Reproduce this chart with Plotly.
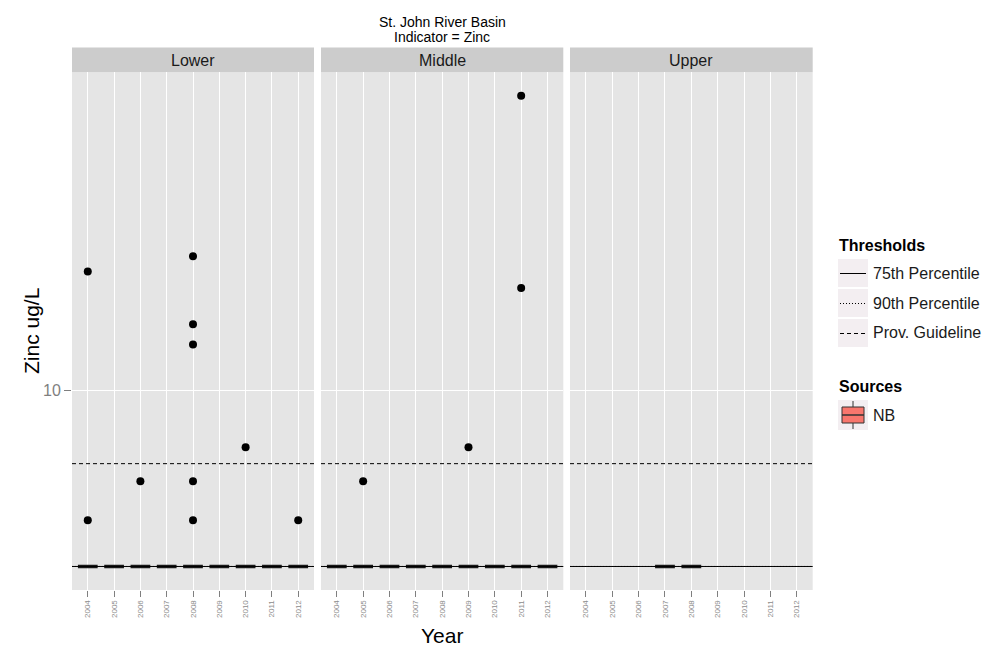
import math
import plotly.graph_objects as go

# ---------------- data ----------------
years = [2004, 2005, 2006, 2007, 2008, 2009, 2010, 2011, 2012]
facets = ["Lower", "Middle", "Upper"]

lower_box_years = [2004, 2005, 2006, 2007, 2008, 2009, 2010, 2011, 2012]
lower_box_stat = [5, 5, 5, 5, 5, 5, 5, 5, 5]
middle_box_years = [2004, 2005, 2006, 2007, 2008, 2009, 2010, 2011, 2012]
middle_box_stat = [5, 5, 5, 5, 5, 5, 5, 5, 5]
upper_box_years = [2007, 2008]
upper_box_stat = [5, 5]

lower_out_years = [2004, 2004, 2006, 2008, 2008, 2008, 2008, 2008, 2010, 2012]
lower_out_values = [16, 6, 7, 17, 13, 12, 7, 6, 8, 6]
middle_out_years = [2005, 2009, 2011, 2011]
middle_out_values = [7, 8, 32, 15]
upper_out_years = []
upper_out_values = []

threshold_names = ["75th Percentile", "90th Percentile", "Prov. Guideline"]
threshold_values = [5, 5, 7.5]
threshold_dash = ["solid", "1px,2px", "4px,3px"]

source_names = ["NB"]
y_ticks = [10]

# ---------------- layout helpers ----------------
W, H = 993, 654
def px(x):
    return x / W
def py(y):
    return 1 - y / H

panel_x = [(72, 314), (321, 563.3), (570, 812.7)]
panel_top, panel_bottom = 72.3, 590
strip_top = 47.5

all_vals = (lower_box_stat + middle_box_stat + upper_box_stat +
            lower_out_values + middle_out_values + upper_out_values)
lo, hi = math.log10(min(all_vals)), math.log10(max(all_vals))
ex = (hi - lo) * 0.05
y_range = [lo - ex, hi + ex]
x_range = [years[0] - 0.6, years[-1] + 0.6]

boxes = [(lower_box_years, lower_box_stat), (middle_box_years, middle_box_stat),
         (upper_box_years, upper_box_stat)]
outs = [(lower_out_years, lower_out_values), (middle_out_years, middle_out_values),
        (upper_out_years, upper_out_values)]

fig = go.Figure()
shapes = []
annotations = []

for i, name in enumerate(facets):
    sfx = "" if i == 0 else str(i + 1)
    xa, ya = "x" + sfx, "y" + sfx
    bx, bs = boxes[i]
    fig.add_trace(go.Box(
        x=bx, q1=bs, median=bs, q3=bs, lowerfence=bs, upperfence=bs,
        boxpoints=False, width=0.75, fillcolor="#F8766D",
        line=dict(color="#1a1a1a", width=3.5), whiskerwidth=0,
        xaxis=xa, yaxis=ya, showlegend=False, hoverinfo="skip"))
    ox, ov = outs[i]
    if ox:
        fig.add_trace(go.Scatter(
            x=ox, y=ov, mode="markers",
            marker=dict(color="black", size=8),
            xaxis=xa, yaxis=ya, showlegend=False, hoverinfo="skip"))
    for tv, td in zip(threshold_values, threshold_dash):
        shapes.append(dict(type="line", xref=xa + " domain", yref=ya,
                           x0=0, x1=1, y0=tv, y1=tv, layer="above",
                           line=dict(color="black", width=1, dash=td)))
    x0, x1 = panel_x[i]
    shapes.append(dict(type="rect", xref="paper", yref="paper",
                       x0=px(x0), x1=px(x1), y0=py(panel_top), y1=py(strip_top),
                       fillcolor="#CCCCCC", line=dict(width=0), layer="below"))
    annotations.append(dict(xref="paper", yref="paper", x=px((x0 + x1) / 2),
                            y=py((panel_top + strip_top) / 2 + 1), text=name,
                            showarrow=False, xanchor="center", yanchor="middle",
                            font=dict(size=16, color="#1a1a1a")))

    xaxis = dict(domain=[px(x0), px(x1)], range=x_range, anchor=ya,
                 tickmode="array", tickvals=years, ticktext=[str(y) for y in years],
                 tickangle=-90, tickfont=dict(size=8, color="#8C8C8C"),
                 ticks="outside", ticklen=6, tickcolor="#7F7F7F",
                 showgrid=True, gridcolor="white", gridwidth=1,
                 zeroline=False, showline=False, automargin=False)
    yaxis = dict(domain=[py(panel_bottom), py(panel_top)], type="log",
                 range=y_range, anchor=xa, tickmode="array", tickvals=y_ticks,
                 ticktext=[str(t) for t in y_ticks],
                 showgrid=True, gridcolor="white", gridwidth=1,
                 zeroline=False, showline=False, automargin=False)
    if i == 0:
        yaxis.update(ticks="outside", ticklen=7, tickcolor="#7F7F7F",
                     tickfont=dict(size=16, color="#7F7F7F"))
    else:
        yaxis.update(showticklabels=False, ticks="", matches="y")
    fig.layout["xaxis" + sfx] = xaxis
    fig.layout["yaxis" + sfx] = yaxis

annotations += [
    dict(xref="paper", yref="paper", x=px(442), y=py(22), text="St. John River Basin",
         showarrow=False, xanchor="center", yanchor="middle",
         font=dict(size=14, color="black")),
    dict(xref="paper", yref="paper", x=px(442), y=py(37), text="Indicator = Zinc",
         showarrow=False, xanchor="center", yanchor="middle",
         font=dict(size=14, color="black")),
    dict(xref="paper", yref="paper", x=px(442), y=py(635), text="Year",
         showarrow=False, xanchor="center", yanchor="middle",
         font=dict(size=21, color="black")),
    dict(xref="paper", yref="paper", x=px(31), y=py(331), text="Zinc ug/L",
         showarrow=False, xanchor="center", yanchor="middle", textangle=-90,
         font=dict(size=21, color="black")),
]

# ---------------- manual legend ----------------
key_bg = "#F3EEF1"
annotations.append(dict(xref="paper", yref="paper", x=px(837), y=py(245),
                        text="<b>Thresholds</b>", showarrow=False,
                        xanchor="left", yanchor="middle",
                        font=dict(size=16, color="black")))
row_top = 258
for k, (nm, td) in enumerate(zip(threshold_names, threshold_dash)):
    t = row_top + 30 * k
    shapes.append(dict(type="rect", xref="paper", yref="paper",
                       x0=px(838), x1=px(868), y0=py(t + 29), y1=py(t + 1),
                       fillcolor=key_bg, line=dict(width=0)))
    shapes.append(dict(type="line", xref="paper", yref="paper",
                       x0=px(840), x1=px(866), y0=py(t + 15.5), y1=py(t + 15.5),
                       line=dict(color="black", width=1, dash=td)))
    annotations.append(dict(xref="paper", yref="paper", x=px(871), y=py(t + 15),
                            text=nm, showarrow=False, xanchor="left",
                            yanchor="middle", font=dict(size=16, color="#1a1a1a")))

annotations.append(dict(xref="paper", yref="paper", x=px(837), y=py(386),
                        text="<b>Sources</b>", showarrow=False,
                        xanchor="left", yanchor="middle",
                        font=dict(size=16, color="black")))
for k, nm in enumerate(source_names):
    t = 400 + 30 * k
    shapes.append(dict(type="rect", xref="paper", yref="paper",
                       x0=px(838), x1=px(868), y0=py(t + 30), y1=py(t),
                       fillcolor=key_bg, line=dict(width=0)))
    shapes.append(dict(type="line", xref="paper", yref="paper",
                       x0=px(853), x1=px(853), y0=py(t + 29), y1=py(t + 1),
                       line=dict(color="#333333", width=1)))
    shapes.append(dict(type="rect", xref="paper", yref="paper",
                       x0=px(842), x1=px(864), y0=py(t + 23), y1=py(t + 7),
                       fillcolor="#F8766D", line=dict(color="#333333", width=1)))
    shapes.append(dict(type="line", xref="paper", yref="paper",
                       x0=px(842), x1=px(864), y0=py(t + 15), y1=py(t + 15),
                       line=dict(color="#333333", width=1.5)))
    annotations.append(dict(xref="paper", yref="paper", x=px(871), y=py(t + 15),
                            text=nm, showarrow=False, xanchor="left",
                            yanchor="middle", font=dict(size=16, color="#1a1a1a")))

fig.update_layout(
    width=W, height=H, margin=dict(l=0, r=0, t=0, b=0),
    paper_bgcolor="white", plot_bgcolor="#E5E5E5",
    font=dict(family="Liberation Sans, Arial, sans-serif"),
    shapes=shapes, annotations=annotations, showlegend=False,
)

fig.write_html("out.html")
